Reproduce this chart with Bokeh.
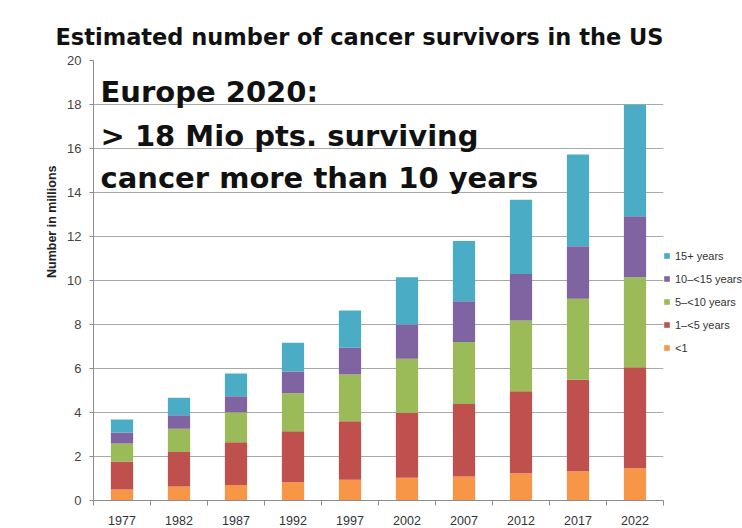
from bokeh.plotting import figure
from bokeh.models import (ColumnDataSource, Legend, LegendItem, Label, FixedTicker, Range1d, Title)
from bokeh.embed import file_html
from bokeh.resources import INLINE

# ---- data (millions) ----
years = [1977, 1982, 1987, 1992, 1997, 2002, 2007, 2012, 2017, 2022]
lt1      = [0.50, 0.64, 0.71, 0.83, 0.94, 1.03, 1.09, 1.24, 1.33, 1.47]
y1_5     = [1.27, 1.56, 1.94, 2.32, 2.66, 2.96, 3.30, 3.73, 4.16, 4.59]
y5_10    = [0.82, 1.06, 1.36, 1.73, 2.13, 2.45, 2.81, 3.21, 3.68, 4.09]
y10_15   = [0.50, 0.62, 0.73, 0.98, 1.21, 1.56, 1.86, 2.12, 2.39, 2.77]
y15plus  = [0.59, 0.79, 1.03, 1.31, 1.70, 2.15, 2.73, 3.37, 4.17, 5.07]

series_keys = ["lt1", "y1_5", "y5_10", "y10_15", "y15plus"]
series_labels = ["<1", "1\u2013<5 years", "5\u2013<10 years", "10\u2013<15 years", "15+ years"]
colors = ["#F79646", "#C0504D", "#9BBB59", "#8064A2", "#4BACC6"]
y_ticks = list(range(0, 21, 2))

title_text = "Estimated number of cancer survivors in the US"
y_label_text = "Number in millions"
note_lines = ["Europe 2020:", "> 18 Mio pts. surviving", "cancer more than 10 years"]

source = ColumnDataSource(dict(
    x=list(range(len(years))),
    lt1=lt1, y1_5=y1_5, y5_10=y5_10, y10_15=y10_15, y15plus=y15plus,
))

p = figure(frame_width=570, frame_height=440, output_backend="svg", toolbar_location=None,
           x_range=Range1d(-0.5, len(years) - 0.5), y_range=Range1d(0, 20),
           min_border_left=93, min_border_right=0, min_border_top=60, min_border_bottom=28)
p.outline_line_alpha = 0
p.background_fill_color = "white"
p.border_fill_color = "white"

renderers = p.vbar_stack(series_keys, x="x", width=0.39, color=colors,
                         line_color=None, source=source)

# title
p.title.text = title_text
p.title.align = "left"
p.title.offset = -38
p.title.standoff = 21
p.title.text_font = "DejaVu Sans"
p.title.text_font_style = "bold"
p.title.text_font_size = "22.5px"
p.title.text_color = "#111111"

# axes
p.xgrid.visible = False
p.ygrid.grid_line_color = "#A8A8A8"
p.ygrid.grid_line_width = 1
p.yaxis.ticker = FixedTicker(ticks=y_ticks)
p.xaxis.ticker = FixedTicker(ticks=list(range(len(years))),
                             minor_ticks=[i - 0.5 for i in range(len(years) + 1)])
p.xaxis.major_label_overrides = {i: str(y) for i, y in enumerate(years)}
for ax in (p.xaxis, p.yaxis):
    ax.axis_line_color = "#8C8C8C"
    ax.major_tick_line_color = "#8C8C8C"
    ax.minor_tick_line_color = "#8C8C8C"
    ax.major_label_text_font = "Liberation Sans"
p.xaxis.major_tick_out = 0
p.xaxis.major_tick_in = 0
p.xaxis.minor_tick_out = 5
p.xaxis.minor_tick_in = 0
p.xaxis.major_label_standoff = 10
p.xaxis.major_label_text_font_size = "12.5px"
p.xaxis.major_label_text_color = "#333333"
p.yaxis.major_tick_out = 4
p.yaxis.major_tick_in = 0
p.yaxis.minor_tick_out = 0
p.yaxis.minor_tick_in = 0
p.yaxis.major_label_standoff = 8
p.yaxis.major_label_text_font_size = "13px"
p.yaxis.major_label_text_color = "#444444"

# y axis label as a side title
ylab = Title(text=y_label_text, align="right", offset=105,
             text_font="Liberation Sans", text_font_style="bold",
             text_font_size="12.5px", text_color="#222222", standoff=11)
p.add_layout(ylab, "left")

# legend (top item = 15+ years)
items = [LegendItem(label=series_labels[i], renderers=[renderers[i]])
         for i in reversed(range(len(series_keys)))]
legend = Legend(items=items, location=(0, 145), glyph_width=7, glyph_height=7,
                label_height=15, spacing=8, padding=0, margin=0, label_standoff=5,
                label_text_font="Liberation Sans", label_text_font_size="11px",
                label_text_color="#333333",
                border_line_alpha=0, background_fill_alpha=0)
p.add_layout(legend, "right")

# note lines
for txt, yy in zip(note_lines, [18.55, 16.59, 14.68]):
    p.add_layout(Label(x=-0.377, y=yy, text=txt, text_font="DejaVu Sans",
                       text_font_style="bold", text_font_size="29px",
                       text_color="#111111", text_baseline="alphabetic"))

open("out.html", "w").write(file_html(p, INLINE))
